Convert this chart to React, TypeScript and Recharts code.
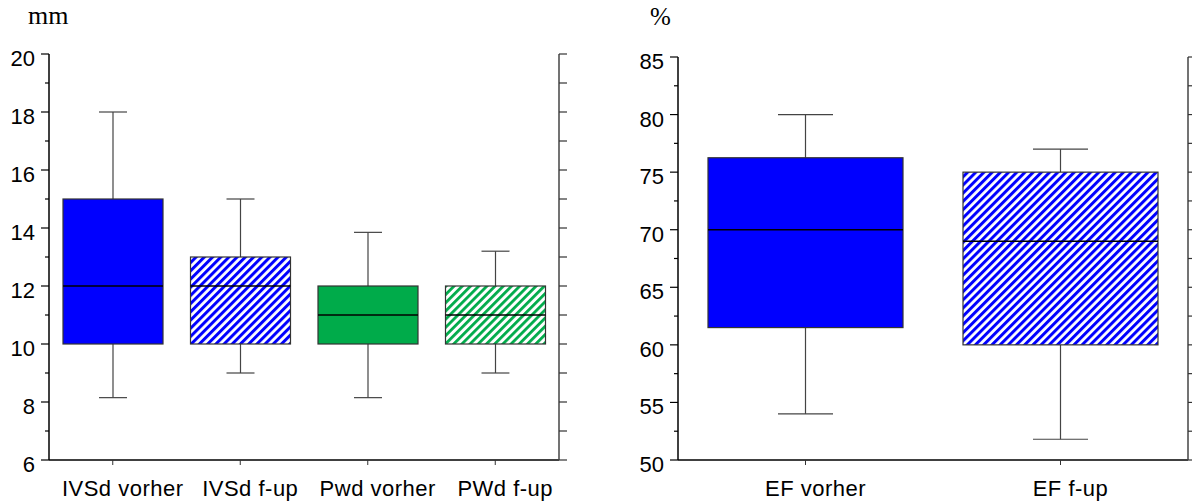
import React from "react";
import { ComposedChart, Bar, XAxis, YAxis } from "recharts";

// left panel (mm)
const wallCats = ["IVSd vorher", "IVSd f-up", "Pwd vorher", "PWd f-up"];
const wallMin = [8.15, 9, 8.15, 9];
const wallQ1 = [10, 10, 10, 10];
const wallMedian = [12, 12, 11, 11];
const wallQ3 = [15, 13, 12, 12];
const wallMax = [18, 15, 13.85, 13.2];
const wallFills = ["#0000ff", "url(#hatchBlue)", "#00ab4a", "url(#hatchGreen)"];
const wallTicks = [6, 7, 8, 9, 10, 11, 12, 13, 14, 15, 16, 17, 18, 19, 20];

// right panel (%)
const efCats = ["EF vorher", "EF f-up"];
const efMin = [54, 51.8];
const efQ1 = [61.5, 60];
const efMedian = [70, 69];
const efQ3 = [76.25, 75];
const efMax = [80, 77];
const efFills = ["#0000ff", "url(#hatchBlue)"];
const efTicks = [50, 52.5, 55, 57.5, 60, 62.5, 65, 67.5, 70, 72.5, 75, 77.5, 80, 82.5, 85];

const FONT = "'Liberation Sans', Arial, sans-serif";

type Row = {
  name: string;
  range: [number, number];
  q1: number;
  median: number;
  q3: number;
  fill: string;
};

function buildRows(cats: string[], mins: number[], q1: number[], med: number[], q3: number[], maxs: number[], fills: string[]): Row[] {
  return cats.map((name, i) => ({
    name,
    range: [mins[i], maxs[i]],
    q1: q1[i],
    median: med[i],
    q3: q3[i],
    fill: fills[i],
  }));
}

const wallRows = buildRows(wallCats, wallMin, wallQ1, wallMedian, wallQ3, wallMax, wallFills);
const efRows = buildRows(efCats, efMin, efQ1, efMedian, efQ3, efMax, efFills);

function makeBoxShape(capW: number) {
  return (props: any) => {
    const { x, y, width, height, payload } = props;
    const top = Math.min(y, y + height);
    const bottom = Math.max(y, y + height);
    const [lo, hi] = payload.range;
    const py = (v: number) => bottom - ((v - lo) / (hi - lo)) * (bottom - top);
    const cx = x + width / 2;
    const yQ1 = py(payload.q1);
    const yQ3 = py(payload.q3);
    const yMed = py(payload.median);
    return (
      <g>
        <line x1={cx} x2={cx} y1={top} y2={yQ3} stroke="#444" strokeWidth={1.2} />
        <line x1={cx} x2={cx} y1={yQ1} y2={bottom} stroke="#444" strokeWidth={1.2} />
        <line x1={cx - capW / 2} x2={cx + capW / 2} y1={top} y2={top} stroke="#444" strokeWidth={1.2} />
        <line x1={cx - capW / 2} x2={cx + capW / 2} y1={bottom} y2={bottom} stroke="#444" strokeWidth={1.2} />
        <rect x={x} y={yQ3} width={width} height={yQ1 - yQ3} fill={payload.fill} stroke="#333" strokeWidth={1.2} />
        <line x1={x} x2={x + width} y1={yMed} y2={yMed} stroke="#000" strokeWidth={1.6} />
      </g>
    );
  };
}

function makeLeftTick(majorStep: number) {
  return (props: any) => {
    const { x, y, payload } = props;
    const v = payload.value;
    const major = Math.abs(v / majorStep - Math.round(v / majorStep)) < 1e-6;
    return (
      <g>
        <line x1={x - (major ? 8 : 4)} x2={x} y1={y} y2={y} stroke="#000" strokeWidth={1.2} />
        {major && (
          <text x={x - 14} y={y + 12} textAnchor="end" fontSize={22} fontFamily={FONT} fill="#000">
            {v}
          </text>
        )}
      </g>
    );
  };
}

const RightTick = (props: any) => {
  const { x, y } = props;
  return <line x1={x} x2={x + 8} y1={y} y2={y} stroke="#333" strokeWidth={1.2} />;
};

const BottomTick = (props: any) => {
  const { x, y, payload } = props;
  return (
    <text x={x + 10} y={y + 31} textAnchor="middle" fontSize={22} letterSpacing={0.5} fontFamily={FONT} fill="#000">
      {payload.value}
    </text>
  );
};

const NoTick = () => <g />;

function BoxChart(props: {
  rows: Row[];
  domain: [number, number];
  ticks: number[];
  majorStep: number;
  barSize: number;
  capW: number;
  width: number;
  top: number;
  yWidth: number;
  rightWidth: number;
}) {
  const { rows, domain, ticks, majorStep, barSize, capW, width, top, yWidth, rightWidth } = props;
  return (
    <ComposedChart width={width} height={501} data={rows} margin={{ top, right: 0, bottom: 0, left: 0 }}>
      <XAxis xAxisId="b" dataKey="name" orientation="bottom" height={41} tickSize={5} tickMargin={0}
        axisLine={{ stroke: "#000", strokeWidth: 1.5 }} tickLine={{ stroke: "#333" }} tick={<BottomTick />} interval={0} />
      <XAxis xAxisId="t" dataKey="name" orientation="top" height={0} tickSize={4} tickMargin={0}
        axisLine={{ stroke: "#555", strokeWidth: 1.5 }} tickLine={{ stroke: "#333" }} tick={<NoTick />} interval={0} />
      <YAxis yAxisId="l" type="number" domain={domain} ticks={ticks} interval={0} width={yWidth}
        tickSize={0} tickMargin={0} tickLine={false} axisLine={{ stroke: "#000", strokeWidth: 1.5 }}
        tick={makeLeftTick(majorStep)} allowDataOverflow />
      <YAxis yAxisId="r" orientation="right" type="number" domain={domain} ticks={ticks} interval={0} width={rightWidth}
        tickSize={0} tickMargin={0} tickLine={false} axisLine={{ stroke: "#444", strokeWidth: 1.5 }}
        tick={<RightTick />} allowDataOverflow />
      <Bar xAxisId="b" yAxisId="l" dataKey="range" barSize={barSize} shape={makeBoxShape(capW)} isAnimationActive={false} />
    </ComposedChart>
  );
}

export default function App() {
  return (
    <div style={{ position: "absolute", left: 0, top: 0, width: 1192, height: 501, background: "#fff" }}>
      <svg width={0} height={0} style={{ position: "absolute" }}>
        <defs>
          <pattern id="hatchBlue" width={5.8} height={5.8} patternUnits="userSpaceOnUse" patternTransform="rotate(45)">
            <rect width={5.8} height={5.8} fill="#fff" />
            <rect width={3} height={5.8} fill="#0000ff" />
          </pattern>
          <pattern id="hatchGreen" width={5.8} height={5.8} patternUnits="userSpaceOnUse" patternTransform="rotate(45)">
            <rect width={5.8} height={5.8} fill="#fff" />
            <rect width={2.8} height={5.8} fill="#00ab4a" />
          </pattern>
        </defs>
      </svg>
      <div style={{ position: "absolute", left: 0, top: 0 }}>
        <BoxChart rows={wallRows} domain={[6, 20]} ticks={wallTicks} majorStep={2} barSize={100} capW={28}
          width={580} top={54} yWidth={49} rightWidth={21} />
      </div>
      <div style={{ position: "absolute", left: 580, top: 0 }}>
        <BoxChart rows={efRows} domain={[50, 85]} ticks={efTicks} majorStep={5} barSize={195} capW={55}
          width={612} top={57} yWidth={98} rightWidth={4} />
      </div>
      <svg width={1192} height={40} style={{ position: "absolute", left: 0, top: 0 }}>
        <text x={28} y={24} fontSize={26} fontFamily="'Liberation Serif', 'Times New Roman', serif" fill="#000">mm</text>
        <text x={650} y={25} fontSize={25} fontFamily="'Liberation Serif', 'Times New Roman', serif" fill="#000">%</text>
      </svg>
    </div>
  );
}
